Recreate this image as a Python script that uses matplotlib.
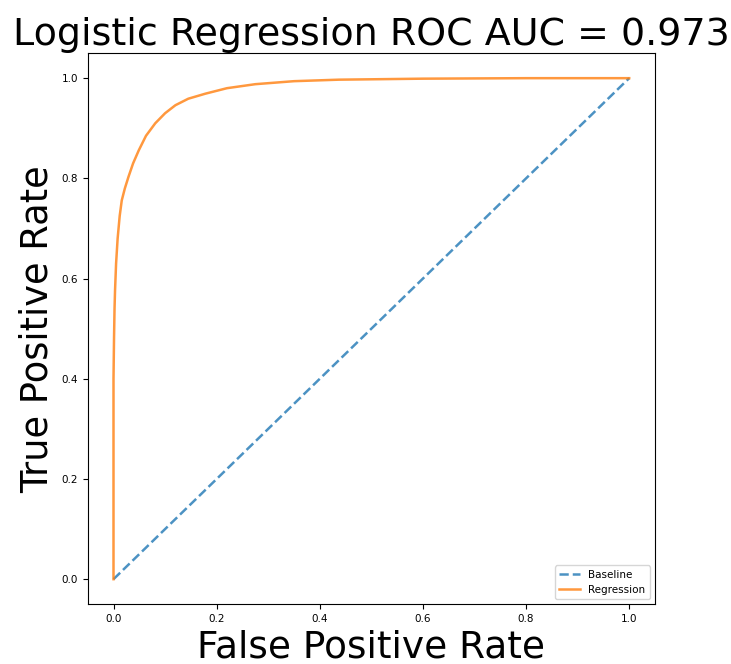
import matplotlib
matplotlib.use("Agg")
import matplotlib.pyplot as plt

# ROC curve
fpr = [0.0, 0.0, 0.0, 0.001, 0.002, 0.003, 0.005, 0.008, 0.012, 0.016,
       0.022, 0.029, 0.038, 0.049, 0.063, 0.081, 0.1, 0.12, 0.145, 0.178,
       0.22, 0.275, 0.35, 0.437, 0.52, 0.6, 0.7, 0.8, 0.9, 1.0]
tpr = [0.0, 0.3, 0.4, 0.48, 0.54, 0.577, 0.63, 0.68, 0.725, 0.756,
       0.78, 0.803, 0.83, 0.856, 0.885, 0.91, 0.93, 0.946, 0.959, 0.969,
       0.98, 0.988, 0.994, 0.997, 0.998, 0.999, 0.9995, 1.0, 1.0, 1.0]

baseline = [0, 1]
auc = 0.973

fig = plt.figure(figsize=(7.31, 6.64), dpi=100)
ax = fig.add_axes([0.120, 0.090, 0.776, 0.830])

ax.plot(baseline, baseline, linestyle='--', linewidth=1.8, alpha=0.8, label='Baseline')
ax.plot(fpr, tpr, linewidth=1.8, alpha=0.8, label='Regression')

ax.set_title(f"Logistic Regression ROC AUC = {auc}", fontsize=27.4)
ax.set_xlabel("False Positive Rate", fontsize=27)
ax.set_ylabel("True Positive Rate", fontsize=26.5)
ax.tick_params(labelsize=7.5)
ax.legend(loc='lower right', fontsize=7.5)

fig.savefig("out.png", dpi=100)
